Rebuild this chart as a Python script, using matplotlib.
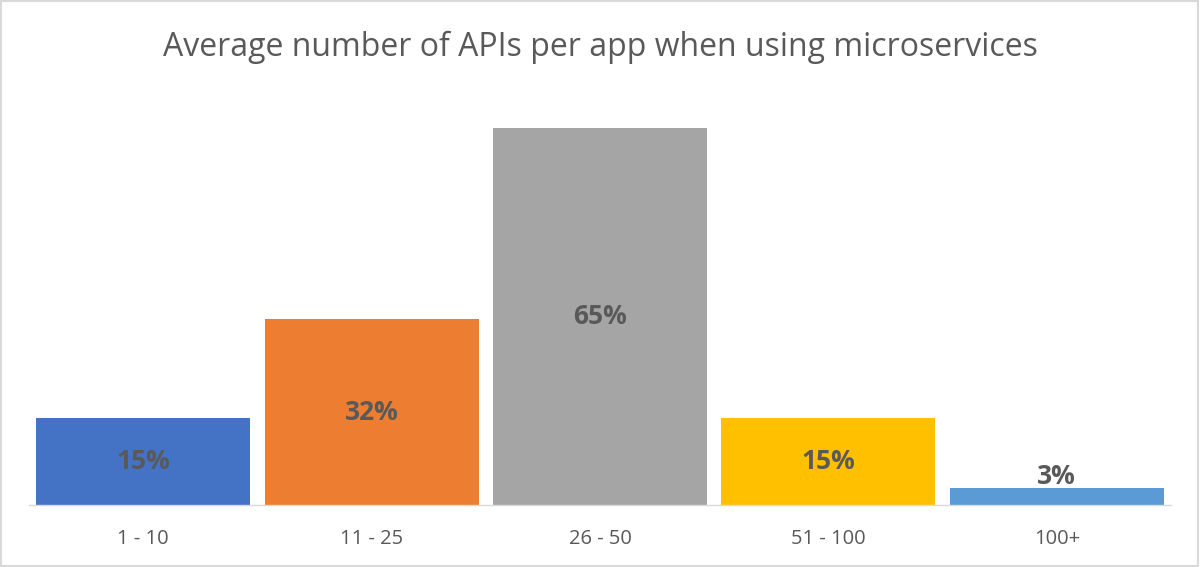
import matplotlib.pyplot as plt
from matplotlib.patches import Rectangle

categories = ["1 - 10", "11 - 25", "26 - 50", "51 - 100", "100+"]
values = [15, 32, 65, 15, 3]
colors = ["#4472C4", "#ED7D31", "#A5A5A5", "#FFC000", "#5B9BD5"]
title = "Average number of APIs per app when using microservices"

plt.rcParams['font.family'] = ['Open Sans', 'DejaVu Sans']
text_color = "#595959"

fig = plt.figure(figsize=(12, 5.67), dpi=100)
ax = fig.add_axes([29 / 1200, 1 - 505 / 567, 1142 / 1200, 377 / 567])

x = range(len(categories))
ax.bar(x, values, width=0.937, color=colors)

for i, v in enumerate(values):
    y = max(v / 2, 4.9)
    ax.text(i, y, f"{v}%", ha="center", va="center", fontsize=19,
            fontweight="bold", color=text_color)

ax.set_xlim(-0.5, len(categories) - 0.5)
ax.set_ylim(0, 65)
ax.set_xticks(list(x))
ax.set_xticklabels(categories, fontsize=14.5, color=text_color)
ax.tick_params(axis="x", length=0, pad=17)
ax.set_yticks([])
for side in ["top", "left", "right"]:
    ax.spines[side].set_visible(False)
ax.spines["bottom"].set_color("#D9D9D9")
ax.spines["bottom"].set_linewidth(1)

fig.text(0.5, 1 - 47 / 567, title, ha="center", va="center",
         fontsize=23, color=text_color)

fig.patches.append(Rectangle((0.001, 0.002), 0.997, 0.996, transform=fig.transFigure,
                             fill=False, edgecolor="#D9D9D9", linewidth=1.5))

fig.savefig("out.png", dpi=100)
